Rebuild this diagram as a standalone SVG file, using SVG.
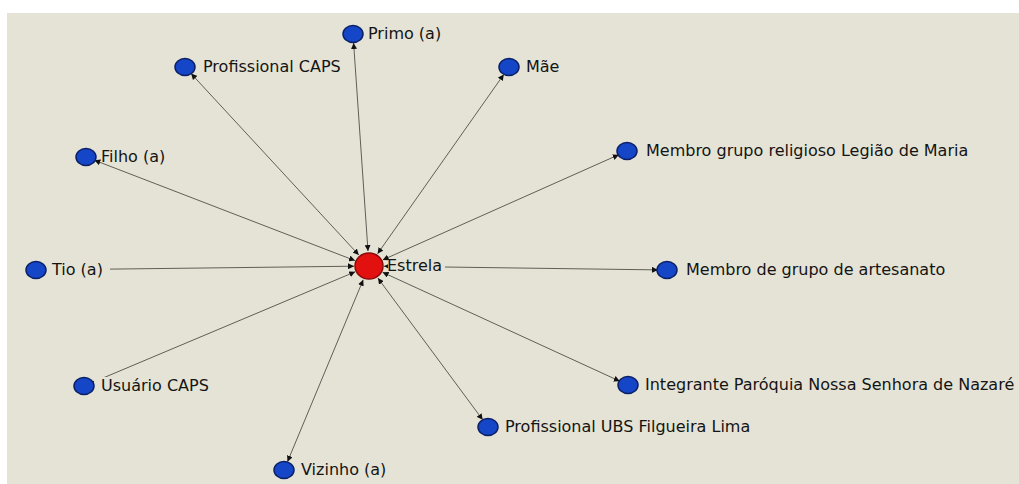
<svg xmlns="http://www.w3.org/2000/svg" width="1019" height="484" viewBox="0 0 1019 484">
<style>
.lbl{font-family:"DejaVu Sans","Liberation Sans",sans-serif;font-size:16px;fill:#141414}
.bg{fill:#E5E3D5}
.n{fill:#1546c8;stroke:#0b1f66;stroke-width:1.5}
.c{fill:#e31010;stroke:#8a0a0a;stroke-width:1.5}
.e{stroke:#5f5f58;stroke-width:1;fill:none;marker-start:url(#ah);marker-end:url(#ah)}
</style>
<defs>
<marker id="ah" viewBox="0 0 10 10" refX="10" refY="5" markerWidth="6" markerHeight="6" markerUnits="userSpaceOnUse" orient="auto-start-reverse">
<path d="M0,0 L10,5 L0,10 z" fill="#111"/>
</marker>
</defs>
<rect x="0" y="0" width="1019" height="484" fill="#ffffff"/>
<rect x="7" y="13" width="1012" height="471" fill="#E5E3D5"/>
<g id="connectors">
<line class="e" x1="353.6" y1="43" x2="368" y2="251"/>
<line class="e" x1="191.1" y1="73.6" x2="358.8" y2="255"/>
<line class="e" x1="503.8" y1="74.4" x2="377.6" y2="253.7"/>
<line class="e" x1="94.4" y1="160.2" x2="355" y2="260.6"/>
<line class="e" x1="618.8" y1="154.7" x2="382.7" y2="259.9"/>
<line class="e" x1="45" y1="269.9" x2="354" y2="266.2"/>
<line class="e" x1="384" y1="266.2" x2="658" y2="269.9"/>
<line class="e" x1="92.3" y1="382.5" x2="355.2" y2="271.8"/>
<line class="e" x1="619.8" y1="381.2" x2="382.6" y2="272.3"/>
<line class="e" x1="482.7" y1="419.8" x2="377.9" y2="278.1"/>
<line class="e" x1="287.5" y1="461.7" x2="363.2" y2="279.8"/>
</g>
<g id="node-estrela"><rect class="bg" x="388" y="260" width="57" height="12"/><ellipse class="c" cx="369" cy="266" rx="14" ry="13"/><text class="lbl" x="387" y="271">Estrela</text></g>
<g id="node-primo"><ellipse class="n" cx="353" cy="34" rx="10" ry="8.5"/><text class="lbl" x="368" y="39">Primo (a)</text></g>
<g id="node-prof-caps"><ellipse class="n" cx="185" cy="67" rx="10" ry="8.5"/><text class="lbl" x="203" y="72">Profissional CAPS</text></g>
<g id="node-mae"><ellipse class="n" cx="509" cy="67" rx="10" ry="8.5"/><text class="lbl" x="526" y="72">Mãe</text></g>
<g id="node-filho"><ellipse class="n" cx="86" cy="157" rx="10" ry="8.5"/><text class="lbl" x="101" y="162">Filho (a)</text></g>
<g id="node-legiao"><ellipse class="n" cx="627" cy="151" rx="10" ry="8.5"/><text class="lbl" x="646" y="156">Membro grupo religioso Legião de Maria</text></g>
<g id="node-tio"><rect class="bg" x="44" y="261" width="66" height="18"/><ellipse class="n" cx="36" cy="270" rx="10" ry="8.5"/><text class="lbl" x="52" y="275">Tio (a)</text></g>
<g id="node-artesanato"><ellipse class="n" cx="667" cy="270" rx="10" ry="8.5"/><text class="lbl" x="686" y="275">Membro de grupo de artesanato</text></g>
<g id="node-usuario"><rect class="bg" x="94" y="377" width="112" height="18"/><ellipse class="n" cx="84" cy="386" rx="10" ry="8.5"/><text class="lbl" x="101" y="391">Usuário CAPS</text></g>
<g id="node-paroquia"><ellipse class="n" cx="628" cy="385" rx="10" ry="8.5"/><text class="lbl" x="645" y="390">Integrante Paróquia Nossa Senhora de Nazaré</text></g>
<g id="node-ubs"><ellipse class="n" cx="488" cy="427" rx="10" ry="8.5"/><text class="lbl" x="505" y="432">Profissional UBS Filgueira Lima</text></g>
<g id="node-vizinho"><ellipse class="n" cx="284" cy="470" rx="10" ry="8.5"/><text class="lbl" x="301" y="475">Vizinho (a)</text></g>
</svg>
